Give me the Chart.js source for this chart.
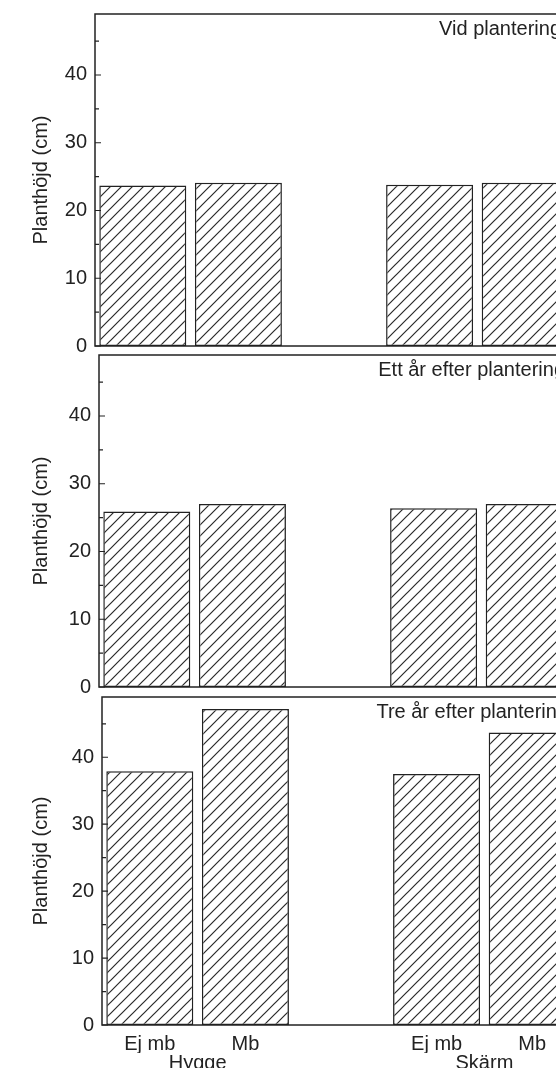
<!DOCTYPE html>
<html>
<head>
<meta charset="utf-8">
<script src="https://cdn.jsdelivr.net/npm/chart.js@4"></script>
<style>
  body { margin: 0; background: #fff; overflow: hidden; width: 556px; height: 1068px; }
  .panel { position: absolute; left: 0; }
</style>
</head>
<body>
<canvas id="p1" class="panel"></canvas>
<canvas id="p2" class="panel"></canvas>
<canvas id="p3" class="panel"></canvas>
<script>
// bars: Hygge (Ej mb, Mb), empty slot, Skärm (Ej mb, Mb)
var categories = ["Ej mb", "Mb", "", "Ej mb", "Mb"];
var groupLabels = ["Hygge", "Skärm"];
var groupMembers = [[0, 1], [3, 4]];
var panelTitles = ["Vid plantering", "Ett år efter plantering", "Tre år efter plantering"];
var vidPlantering = [23.7, 24.1, null, 23.8, 24.1];
var ettAr = [25.9, 27.0, null, 26.4, 27.0];
var treAr = [37.9, 47.2, null, 37.5, 43.7];
var yMax = 49;
var yStep = 10;
var yTitle = "Planthöjd (cm)";

var ink = "#222";
var fontFam = "'Liberation Sans', Arial, sans-serif";
Chart.defaults.font.family = fontFam;
Chart.defaults.font.size = 20;
Chart.defaults.color = ink;

function hatch() {
  var c = document.createElement("canvas");
  c.width = 11; c.height = 11;
  var g = c.getContext("2d");
  g.fillStyle = "#fff";
  g.fillRect(0, 0, 11, 11);
  g.strokeStyle = "#2a2a2a";
  g.lineWidth = 1.2;
  g.beginPath();
  g.moveTo(-2, 13); g.lineTo(13, -2);
  g.moveTo(-2, 2); g.lineTo(2, -2);
  g.moveTo(9, 13); g.lineTo(13, 9);
  g.stroke();
  return g.createPattern(c, "repeat");
}

// box round the plot, inward ticks, panel caption
var framePlugin = {
  id: "frame",
  afterDatasetsDraw: function(chart) {
    var a = chart.chartArea, ctx = chart.ctx, y = chart.scales.y;
    ctx.save();
    ctx.strokeStyle = ink;
    ctx.lineWidth = 1.5;
    ctx.strokeRect(a.left, a.top, a.right - a.left, a.bottom - a.top);
    ctx.lineWidth = 1.2;
    ctx.beginPath();
    y.ticks.forEach(function(t) {
      var py = y.getPixelForValue(t.value);
      ctx.moveTo(a.left, py); ctx.lineTo(a.left + 6, py);
      var half = t.value + yStep / 2;
      if (half < yMax) {
        var pm = y.getPixelForValue(half);
        ctx.moveTo(a.left, pm); ctx.lineTo(a.left + 4, pm);
      }
    });
    ctx.stroke();
    ctx.fillStyle = ink;
    ctx.font = "20px " + fontFam;
    ctx.textAlign = "right";
    ctx.textBaseline = "top";
    ctx.fillText(chart.options.plugins.frame.title, a.right - 12, a.top + 5);
    ctx.restore();
  }
};

function makePanel(id, canvasTop, canvasHeight, areaTop, areaBottom, axisX, values, title, last) {
  var canvas = document.getElementById(id);
  canvas.style.top = canvasTop + "px";
  canvas.width = axisX + 483;
  canvas.height = canvasHeight;
  var xHeight = last ? 28 : 0;
  var x2Height = last ? 20 : 0;
  var padTop = areaTop - canvasTop;
  var padBottom = canvasTop + canvasHeight - areaBottom - xHeight - x2Height;
  var scales = {
    x: {
      display: last,
      type: "category",
      offset: true,
      grid: { display: false, drawTicks: false },
      border: { display: false },
      ticks: { font: { size: 20, lineHeight: 1 }, padding: 9, maxRotation: 0, autoSkip: false },
      afterFit: function(s) { s.height = xHeight; }
    },
    y: {
      min: 0,
      max: yMax,
      grid: { display: false, drawTicks: false },
      border: { display: false },
      ticks: { stepSize: yStep, includeBounds: false, font: { size: 20 }, padding: 8 },
      title: { display: true, text: yTitle, font: { size: 20 } },
      afterFit: function(s) {
        s.width = axisX - 25;
        s.paddingTop = 0;
        s.paddingBottom = 0;
      }
    }
  };
  if (last) {
    scales.x2 = {
      type: "linear",
      position: "bottom",
      weight: 1,
      offset: false,
      bounds: "data",
      min: 0,
      max: categories.length,
      grid: { display: false, drawTicks: false },
      border: { display: false },
      ticks: {
        font: { size: 20, lineHeight: 1 },
        padding: 0,
        callback: function(v, i) { return groupLabels[i]; }
      },
      afterBuildTicks: function(s) {
        s.ticks = groupMembers.map(function(m) {
          return { value: (m[0] + m[m.length - 1]) / 2 + 0.5 };
        });
      },
      afterFit: function(s) {
        s.height = x2Height;
        s.paddingLeft = 0;
        s.paddingRight = 0;
      }
    };
  }
  return new Chart(canvas.getContext("2d"), {
    type: "bar",
    data: {
      labels: categories,
      datasets: [{
        data: values,
        backgroundColor: hatch(),
        borderColor: ink,
        borderWidth: 1.5,
        borderSkipped: false,
        categoryPercentage: 1,
        barPercentage: 0.91
      }]
    },
    options: {
      responsive: false,
      animation: false,
      devicePixelRatio: 1,
      layout: { padding: { left: 25, right: 5, top: padTop, bottom: padBottom } },
      plugins: {
        legend: { display: false },
        tooltip: { enabled: false },
        frame: { title: title }
      },
      scales: scales
    },
    plugins: [framePlugin]
  });
}

makePanel("p1", 0, 362, 14, 346, 95, vidPlantering, panelTitles[0], false);
makePanel("p2", 340, 362, 355, 687, 99, ettAr, panelTitles[1], false);
makePanel("p3", 684, 400, 697, 1025, 102, treAr, panelTitles[2], true);
</script>
</body>
</html>
